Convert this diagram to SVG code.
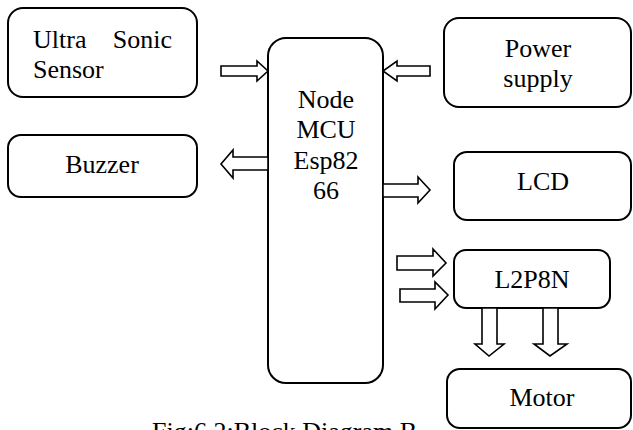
<svg xmlns="http://www.w3.org/2000/svg" width="633" height="430" viewBox="0 0 633 430">
<style>
.box{fill:#fff;stroke:#000;stroke-width:2}
.arr{fill:#fff;stroke:#000;stroke-width:1.6;stroke-linejoin:miter}
text{font-family:"Liberation Serif","Times New Roman",serif;font-size:26px;fill:#000}
.c{text-anchor:middle}
</style>
<rect width="633" height="430" fill="#fff"/>
<g id="ultrasonic">
<rect class="box" x="8" y="8" width="189" height="89" rx="15"/>
<text x="33" y="48">Ultra</text><text x="172" y="48" text-anchor="end">Sonic</text>
<text x="33" y="78">Sensor</text>
</g>
<g id="buzzer">
<rect class="box" x="8" y="135" width="189" height="62" rx="13"/>
<text class="c" x="102" y="173">Buzzer</text>
</g>
<g id="nodemcu">
<rect class="box" x="268" y="38" width="115" height="345" rx="18"/>
<text class="c" x="326" y="108">Node</text>
<text class="c" x="326" y="138">MCU</text>
<text class="c" x="326" y="169">Esp82</text>
<text class="c" x="326" y="199">66</text>
</g>
<g id="power">
<rect class="box" x="444" y="18" width="187" height="89" rx="15"/>
<text class="c" x="538" y="57">Power</text>
<text class="c" x="538" y="87">supply</text>
</g>
<g id="lcd">
<rect class="box" x="454" y="152" width="177" height="68" rx="13"/>
<text class="c" x="543" y="190">LCD</text>
</g>
<g id="l2p8n">
<rect class="box" x="454" y="250" width="156" height="58" rx="12"/>
<text class="c" x="532" y="288">L2P8N</text>
</g>
<g id="motor">
<rect class="box" x="447" y="369" width="184" height="59" rx="13"/>
<text class="c" x="542" y="406">Motor</text>
</g>
<g id="caption">
<text x="152" y="440">Fig:6.2:Block Diagram B</text>
</g>
<g id="connectors">
<path class="arr" d="M221 66 H257 V61 L268 71 L257 81 V76 H221 Z"/>
<path class="arr" d="M430 66 H397 V61 L383 71 L397 81 V76 H430 Z"/>
<path class="arr" d="M268 157 H233 V150 L221 164 L233 178 V170 H268 Z"/>
<path class="arr" d="M383 184 H418 V177 L430 190 L418 203 V197 H383 Z"/>
<path class="arr" d="M397 256 H433 V249 L446 263 L433 276 V270 H397 Z"/>
<path class="arr" d="M400 289 H435 V282 L448 295 L435 309 V302 H400 Z"/>
<path class="arr" d="M482 308 V344 H475 L489 356 L504 344 H497 V308 Z"/>
<path class="arr" d="M543 308 V344 H534 L550 356 L567 344 H558 V308 Z"/>
</g>
</svg>
